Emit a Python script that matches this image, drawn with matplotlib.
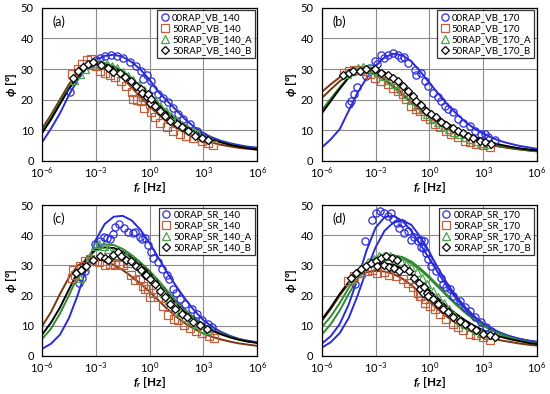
import numpy as np
import matplotlib
matplotlib.use("Agg")
import matplotlib.pyplot as plt

plt.rcParams['font.family'] = ['Lato', 'DejaVu Sans']
plt.rcParams['mathtext.fontset'] = 'custom'
plt.rcParams['mathtext.rm'] = 'Lato'
plt.rcParams['mathtext.it'] = 'Lato:italic:bold'
plt.rcParams['mathtext.bf'] = 'Lato:bold'

# model curves sampled every half decade, log10(f) from -6 to 6
line_logf = [-6, -5.5, -5, -4.5, -4, -3.5, -3, -2.5, -2, -1.5, -1, -0.5, 0,
             0.5, 1, 1.5, 2, 2.5, 3, 3.5, 4, 4.5, 5, 5.5, 6]

# ---- (a) VB_140
a_labels = ['00RAP_VB_140', '50RAP_VB_140', '50RAP_VB_140_A', '50RAP_VB_140_B']
a_line_blue = [6, 10.5, 15.5, 21.5, 26.5, 30.5, 33, 34.3, 34.7, 34, 32.3, 29.8, 26.5,
               22.5, 19.5, 16.5, 13.5, 11, 9, 7.6, 6.5, 5.7, 5.1, 4.6, 4.3]
a_line_brown = [10.5, 15, 20, 25, 29, 31.5, 32.3, 31.5, 29.6, 27, 24, 20.8, 17.8,
                15.1, 12.7, 10.7, 9.1, 7.8, 6.7, 5.9, 5.2, 4.7, 4.2, 3.9, 3.6]
a_line_green = [9.5, 14, 19, 24, 28, 30.8, 32, 32, 31, 29.3, 27, 24.3, 21.5,
                18.7, 16, 13.7, 11.6, 9.8, 8.3, 7.1, 6.1, 5.3, 4.7, 4.2, 3.8]
a_line_black = [9, 13.5, 18.5, 23.5, 27.5, 30.3, 31.5, 31.5, 30.5, 28.8, 26.5, 23.8, 21,
                18.2, 15.6, 13.3, 11.3, 9.6, 8.1, 6.9, 6, 5.2, 4.6, 4.1, 3.7]
a_blue_f = [-4.45, -3.3, -3.0, -2.75, -2.5, -2.15, -1.8, -1.5, -1.1, -0.75, -0.45, -0.38, -0.12,
            0.1, 0.21, 0.49, 0.77, 1.05, 1.33, 1.61, 1.89, 2.26, 2.63, 3.0, 3.28]
a_blue_phi = [22.4, 31.5, 32.8, 33.7, 34.2, 34.5, 34.4, 33.6, 32.2, 30.9, 29.3, 26.6, 27.9,
              26.1, 23.4, 21.7, 20.6, 19.3, 17.4, 15.2, 13.6, 12.0, 9.8, 8.2, 7.1]
a_brown_f = [-4.3, -4.0, -3.75, -3.5, -3.25, -3.0, -2.75, -2.5, -2.2, -1.95, -1.6, -1.3, -1.0,
             -0.95, -0.7, -0.5, -0.36, -0.3, 0.0, 0.1, 0.3, 0.6, 0.95, 1.3, 1.7, 2.05, 2.45,
             2.9, 3.25, 3.55]
a_brown_phi = [28.5, 30.0, 31.5, 32.8, 33.2, 31.0, 29.3, 28.8, 28.0, 27.5, 26.0, 24.5, 22.5,
               20.3, 19.8, 19.6, 20.7, 17.4, 18.5, 15.8, 14.2, 12.5, 11.2, 9.8, 8.7, 8.2, 7.5,
               6.6, 5.8, 5.0]
a_green_f = [-4.2, -3.9, -3.6, -3.3, -3.0, -2.7, -2.4, -2.1, -1.8, -1.5, -1.2, -0.9, -0.6,
             -0.3, 0.0, 0.3, 0.6, 0.9, 1.2, 1.5, 1.8, 2.1, 2.4, 2.7, 3.0, 3.3]
a_green_phi = [26.5, 28.5, 30.0, 31.2, 32.0, 31.8, 31.5, 31.0, 30.2, 29.0, 27.8, 26.5, 24.8,
               23.0, 21.5, 19.8, 18.0, 16.3, 14.8, 13.2, 11.8, 10.6, 9.6, 8.6, 7.8, 7.0]
a_black_f = [-4.27, -3.99, -3.71, -3.43, -3.15, -2.69, -2.32, -2.04, -1.67, -1.39, -1.01, -0.73,
             -0.46, -0.44, -0.16, -0.08, 0.03, 0.1, 0.31, 0.59, 0.86, 1.14, 1.52, 1.8, 2.17,
             2.54, 2.91, 3.28]
a_black_phi = [27.2, 29.3, 30.7, 31.8, 32.2, 31.2, 30.4, 29.0, 28.8, 27.5, 26.1, 24.4,
               23.4, 22.3, 20.7, 21.7, 19.0, 20.1, 18.0, 16.3, 14.7, 13.1, 12.0, 10.9, 9.8,
               8.2, 7.3, 6.8]

# ---- (b) VB_170
b_labels = ['00RAP_VB_170', '50RAP_VB_170', '50RAP_VB_170_A', '50RAP_VB_170_B']
b_line_blue = [4.3, 7, 10.3, 16.3, 22.3, 27, 31, 33.8, 35, 34.5, 32.5, 29.2, 25.5,
               22, 18.5, 15.5, 12.8, 10.6, 8.9, 7.5, 6.4, 5.6, 4.9, 4.4, 3.9]
b_line_brown = [22.5, 25, 27.3, 28.8, 29.4, 29.2, 28.2, 26.5, 24.2, 21.6, 19, 16.5, 14.2,
                12.2, 10.4, 8.9, 7.6, 6.6, 5.8, 5.1, 4.6, 4.1, 3.7, 3.4, 3.1]
b_line_brown2 = [20.5, 23.3, 26, 28, 29, 29.1, 28.4, 26.8, 24.5, 21.9, 19.2, 16.7, 14.4,
                 12.4, 10.6, 9.1, 7.8, 6.7, 5.9, 5.2, 4.6, 4.2, 3.8, 3.4, 3.1]
b_line_green = [16.5, 20.3, 24, 27.3, 29.6, 30.6, 30.3, 29, 26.8, 24, 21, 18.2, 15.7,
                13.5, 11.6, 10, 8.6, 7.4, 6.4, 5.6, 4.9, 4.4, 3.9, 3.5, 3.2]
b_line_black = [15.5, 19.5, 23.5, 27.2, 29.5, 30.3, 29.9, 28.8, 27, 24.5, 21.7, 18.9, 16.4,
                14.2, 12.3, 10.6, 9.1, 7.9, 6.8, 5.9, 5.2, 4.6, 4.1, 3.7, 3.4]
b_blue_f = [-4.47, -4.38, -4.19, -4.05, -3.52, -3.3, -3.05, -2.9, -2.68, -2.5, -2.31, -2.03,
            -1.75, -1.56, -1.4, -1.19, -0.82, -0.73, -0.45, -0.26, -0.07, 0.2, 0.48, 0.67,
            0.86, 1.04, 1.32, 1.6, 1.88, 2.25, 2.53, 2.9, 3.09, 3.28, 3.65]
b_blue_phi = [18.5, 19.6, 21.7, 24.0, 27.7, 30.5, 32.6, 31.5, 34.7, 33.5, 34.7, 35.3,
              34.7, 33.7, 34.0, 32.1, 29.8, 28.1, 28.8, 26.1, 24.4, 22.3, 20.7, 19.6,
              18.0, 16.9, 15.8, 13.6, 12.5, 11.5, 9.8, 8.8, 8.7, 7.7, 6.8]
b_brown_f = [-4.75, -4.47, -4.2, -3.9, -3.6, -3.3, -3.05, -2.68, -2.31, -2.03, -1.75, -1.47,
             -1.29, -1.0, -0.73, -0.54, -0.26, 0.02, 0.3, 0.58, 0.95, 1.23, 1.6, 1.97, 2.25,
             2.63, 3.0, 3.37]
b_brown_phi = [28.8, 29.3, 29.6, 29.8, 29.5, 28.3, 27.2, 26.1, 25.0, 23.9, 22.8, 21.7,
               20.1, 18.0, 16.8, 16.3, 14.7, 13.6, 12.0, 10.9, 9.8, 8.8, 7.7, 6.6, 6.1,
               5.5, 5.0, 4.4]
b_green_f = [-4.6, -4.3, -4.0, -3.7, -3.4, -3.1, -2.8, -2.5, -2.2, -1.9, -1.6, -1.3, -1.0,
             -0.7, -0.4, -0.1, 0.2, 0.5, 0.8, 1.1, 1.4, 1.7, 2.0, 2.3, 2.6, 2.9, 3.2]
b_green_phi = [28.5, 29.5, 30.3, 30.8, 30.5, 29.8, 28.8, 27.8, 26.5, 25.0, 23.5, 21.8, 20.0,
               18.3, 16.8, 15.3, 14.0, 12.8, 11.5, 10.5, 9.5, 8.6, 7.8, 7.1, 6.4, 5.9, 5.4]
b_black_f = [-4.82, -4.5, -4.26, -3.89, -3.52, -3.05, -2.68, -2.31, -2.03, -1.75, -1.47,
             -1.19, -0.91, -0.73, -0.45, -0.17, 0.11, 0.39, 0.67, 0.95, 1.32, 1.6, 1.88,
             2.16, 2.44, 2.81, 3.09, 3.46]
b_black_phi = [28.2, 28.8, 29.3, 29.3, 29.9, 29.9, 28.8, 28.2, 27.2, 26.1, 24.5,
               22.8, 21.2, 19.6, 18.3, 16.3, 15.3, 14.2, 12.8, 11.7, 10.6, 9.8, 9.0,
               8.2, 7.5, 6.6, 6.1, 5.5]

# ---- (c) SR_140
c_labels = ['00RAP_SR_140', '50RAP_SR_140', '50RAP_SR_140_A', '50RAP_SR_140_B']
c_line_blue = [2.3, 4, 7, 12.5, 20.3, 29.5, 38.5, 43.8, 46.2, 46.5, 45, 41.8, 37.5,
               32.5, 27.5, 23, 18.8, 15, 11.9, 9.6, 7.9, 6.6, 5.6, 5, 4.5]
c_line_brown = [9.8, 14.5, 20.5, 26, 30, 31.8, 32, 31.5, 30.2, 28.5, 26.3, 23.9, 21.3,
                18.4, 15.5, 12.9, 10.7, 8.9, 7.4, 6.3, 5.4, 4.7, 4.1, 3.7, 3.3]
c_line_green = [5.5, 9, 14, 20, 26.5, 32, 35.5, 37, 36.8, 35.5, 33.5, 31, 28.2,
                25, 21.5, 18.2, 15.2, 12.6, 10.5, 8.8, 7.4, 6.3, 5.5, 4.8, 4.3]
c_line_black = [7, 11, 16, 22, 28, 32.5, 35.2, 36, 35.8, 34.6, 32.7, 30.3, 27.5,
                24.2, 20.5, 17.2, 14.3, 11.9, 9.9, 8.3, 7.1, 6.1, 5.3, 4.7, 4.3]
c_blue_f = [-3.95, -3.75, -3.6, -3.05, -2.78, -2.55, -2.4, -2.2, -2.05, -1.9, -1.7, -1.45,
            -1.2, -0.95, -0.8, -0.55, -0.4, -0.27, -0.1, 0.1, 0.2, 0.45, 0.68, 0.96, 1.1,
            1.33, 1.45, 1.7, 1.98, 2.35, 2.63, 2.91, 3.28, 3.47]
c_blue_phi = [24.2, 26.0, 28.0, 37.0, 38.0, 39.5, 39.0, 38.8, 40.6, 42.7, 43.9, 42.5,
              41.0, 40.8, 41.2, 39.5, 38.8, 39.0, 36.8, 34.6, 32.5, 31.2, 28.7, 27.0, 25.5,
              22.1, 21.0, 18.8, 17.2, 15.6, 14.0, 11.8, 10.7, 9.6]
c_brown_f = [-4.33, -4.27, -4.18, -3.9, -3.62, -3.35, -3.1, -2.8, -2.5, -2.2, -1.94, -1.7,
             -1.48, -1.2, -1.01, -0.8, -0.53, -0.34, -0.27, -0.07, 0.01, 0.21, 0.49, 0.77,
             1.02, 1.34, 1.6, 1.9, 2.26, 2.6, 2.9, 3.3, 3.58]
c_brown_phi = [25.8, 28.6, 27.0, 29.7, 31.4, 32.0, 31.5, 31.0, 30.3, 30.5, 30.3, 30.6,
               30.3, 30.8, 27.0, 25.3, 25.4, 23.2, 22.1, 22.1, 19.4, 21.0, 19.4, 16.5,
               13.5, 12.2, 11.8, 10.2, 9.3, 8.3, 7.6, 6.6, 6.0]
c_green_f = [-3.9, -3.6, -3.3, -3.05, -2.8, -2.55, -2.3, -2.05, -1.8, -1.55, -1.3, -1.0, -0.7,
             -0.4, -0.1, 0.2, 0.5, 0.8, 1.1, 1.4, 1.7, 2.0, 2.3, 2.6, 2.9, 3.2]
c_green_phi = [26.0, 29.5, 33.0, 36.5, 37.0, 36.5, 35.5, 34.5, 33.5, 33.5, 33.0, 32.0, 30.5,
               29.0, 27.0, 25.5, 23.5, 21.0, 18.5, 16.5, 14.5, 13.0, 11.8, 10.5, 9.3, 8.5]
c_black_f = [-4.08, -3.8, -3.53, -3.15, -2.78, -2.5, -2.32, -2.04, -1.76, -1.57, -1.29, -1.01,
             -0.73, -0.53, -0.46, -0.25, -0.18, 0.03, 0.31, 0.59, 0.86, 1.14, 1.42, 1.8,
             2.07, 2.45, 2.82, 3.19]
c_black_phi = [27.6, 28.6, 29.7, 31.9, 33.0, 32.5, 31.9, 33.5, 34.6, 33.0, 31.9, 31.4,
               29.7, 29.2, 28.6, 27.0, 27.0, 25.4, 23.7, 21.6, 19.4, 17.2, 15.6, 14.0,
               12.9, 11.2, 10.1, 9.0]

# ---- (d) SR_170
d_labels = ['00RAP_SR_170', '50RAP_SR_170', '50RAP_SR_170_A', '50RAP_SR_170_B']
d_line_blue = [4, 6.5, 10.5, 17, 25.5, 35, 42.5, 46, 46.5, 44.8, 41.5, 37, 32.3,
               27.5, 23, 19, 15.6, 12.7, 10.4, 8.7, 7.4, 6.4, 5.6, 5, 4.5]
d_line_blue2 = [2.7, 4.5, 7.5, 12.5, 20, 28.5, 36, 41.5, 44.3, 45, 43.5, 39.5, 34.5,
                29, 24, 19.8, 16.2, 13.2, 10.8, 9, 7.6, 6.5, 5.7, 5.1, 4.7]
d_line_brown = [11.5, 15.5, 20, 24, 26.5, 27.8, 28.2, 28, 27.2, 25.6, 23.5, 20.8, 18,
                15.3, 12.9, 10.8, 9.1, 7.7, 6.6, 5.8, 5.1, 4.6, 4.1, 3.7, 3.4]
d_line_green = [9.5, 13, 17.5, 22.5, 27, 30.5, 32.5, 33.3, 33.2, 32.3, 30.7, 28.5, 25.8,
                22.8, 19.8, 16.9, 14.3, 12, 10, 8.4, 7.1, 6.1, 5.2, 4.6, 4.1]
d_line_green2 = [7, 10.5, 15, 20.5, 25.5, 29.5, 32, 33.2, 33.4, 32.8, 31.3, 29, 26.3,
                 23.3, 20.2, 17.3, 14.6, 12.2, 10.2, 8.5, 7.1, 6, 5.2, 4.6, 4.1]
d_line_black = [12, 16, 20.5, 24.5, 27.5, 29.5, 30.5, 30.7, 30.2, 29, 27, 24.5, 21.8,
                19, 16.3, 13.9, 11.8, 10, 8.5, 7.3, 6.3, 5.5, 4.9, 4.3, 3.9]
d_blue_f = [-4.15, -3.6, -3.2, -3.0, -2.75, -2.5, -2.3, -2.12, -2.03, -1.8, -1.68, -1.5, -1.4,
            -1.2, -1.03, -0.85, -0.65, -0.47, -0.45, -0.35, -0.28, -0.2, -0.07, 0.11, 0.39,
            0.67, 0.76, 0.95, 1.14, 1.32, 1.7, 1.97, 2.25, 2.53, 2.9, 3.18, 3.46]
d_blue_phi = [24.0, 38.0, 45.0, 47.5, 48.2, 47.5, 46.5, 47.3, 45.6, 44.0, 42.3, 44.0, 40.7,
              41.5, 38.5, 39.6, 38.0, 36.3, 38.5, 35.8, 38.0, 34.1, 32.0, 29.8, 28.1,
              26.0, 23.8, 22.7, 22.1, 19.9, 18.3, 16.1, 15.0, 12.8, 11.2, 9.5, 8.3]
d_brown_f = [-4.56, -4.19, -3.82, -3.5, -3.2, -2.89, -2.55, -2.24, -1.86, -1.49, -1.21, -0.93,
             -0.65, -0.54, -0.47, -0.26, -0.19, 0.02, 0.3, 0.58, 0.95, 1.32, 1.6, 1.88, 2.25,
             2.63, 3.0, 3.37]
d_brown_phi = [24.9, 26.5, 27.6, 28.3, 28.5, 27.6, 27.8, 27.0, 26.5, 25.4, 24.3, 22.7,
               21.0, 19.9, 19.9, 17.7, 18.8, 16.7, 15.6, 13.9, 12.3, 10.6, 9.6, 8.5, 7.4,
               6.8, 6.3, 5.2]
d_green_f = [-4.3, -4.0, -3.7, -3.4, -3.1, -2.8, -2.5, -2.2, -1.9, -1.6, -1.3, -1.0, -0.7,
             -0.4, -0.1, 0.2, 0.5, 0.8, 1.1, 1.4, 1.7, 2.0, 2.3, 2.6, 2.9, 3.2]
d_green_phi = [25.5, 27.5, 29.5, 31.0, 32.3, 33.0, 33.3, 33.0, 32.3, 31.5, 30.5, 29.5, 27.8,
               25.8, 23.8, 21.5, 19.5, 17.5, 15.5, 13.6, 12.0, 10.6, 9.4, 8.4, 7.5, 6.8]
d_black_f = [-4.38, -4.1, -3.82, -3.54, -3.26, -3.0, -2.89, -2.7, -2.52, -2.4, -2.24, -2.1,
             -1.96, -1.8, -1.68, -1.4, -1.12, -0.84, -0.56, -0.54, -0.35, -0.28, -0.1, -0.07,
             0.2, 0.48, 0.76, 1.04, 1.32, 1.7, 1.97, 2.35, 2.63, 3.0, 3.37, 3.65]
d_black_phi = [25.9, 27.6, 28.7, 29.8, 30.9, 31.5, 29.8, 32.5, 30.0, 33.0, 29.6, 32.5,
               29.0, 31.8, 28.3, 29.2, 28.1, 25.9, 24.3, 22.1, 21.0, 22.7, 21.0, 19.9,
               18.8, 17.2, 15.6, 14.5, 12.8, 11.7, 10.6, 9.6, 8.5, 7.4, 6.8, 6.3]

BLUE = '#2b2bd8'
BROWN_M = '#c0603e'
BROWN_L = '#7a3410'
GREEN_M = '#4fa04f'
GREEN_L = '#2f8a2f'

xticks = [1e-6, 1e-3, 1, 1e3, 1e6]
xticklabels = [r'$10^{-6}$', r'$10^{-3}$', r'$10^{0}$', r'$10^{3}$', r'$10^{6}$']


def draw_panel(ax, tag, labels, lines, markers):
    lf = 10.0 ** np.array(line_logf)
    for vals, col in lines:
        ax.plot(lf, vals, color=col, lw=1.4, zorder=2)
    styles = [
        dict(marker='o', mec=BLUE, mfc='none', ms=5.2),
        dict(marker='s', mec=BROWN_M, mfc='none', ms=5.2),
        dict(marker='^', mec=GREEN_M, mfc='none', ms=5.2),
        dict(marker='D', mec='black', mfc='white', ms=4.2),
    ]
    for (f, phi), st, lab in zip(markers, styles, labels):
        ax.plot(10.0 ** np.array(f), phi, ls='none', mew=0.9, label=lab, zorder=3, **st)

    ax.set_xscale('log')
    ax.set_xlim(1e-6, 1e6)
    ax.set_ylim(0, 50)
    ax.set_xticks(xticks)
    ax.set_xticklabels(xticklabels)
    ax.xaxis.set_minor_locator(matplotlib.ticker.NullLocator())
    ax.set_yticks([0, 10, 20, 30, 40, 50])
    ax.tick_params(labelsize=8, length=0)
    ax.tick_params(axis='x', pad=3.5)
    ax.tick_params(axis='y', pad=6)
    ax.grid(True, color='#8c8c8c', lw=0.8)
    ax.set_axisbelow(True)
    for s in ax.spines.values():
        s.set_linewidth(0.9)
    ax.set_xlabel(r'$f_r$ [Hz]', fontsize=8.5, fontweight='bold', labelpad=0)
    ax.set_ylabel(r'$\phi$ [°]', fontsize=8.5, fontweight='bold', labelpad=1)
    ax.text(0.05, 0.88, tag, transform=ax.transAxes, fontsize=9)
    leg = ax.legend(loc='upper right', fontsize=7, frameon=True, fancybox=False,
                    edgecolor='black', borderpad=0.3, labelspacing=0.2,
                    handlelength=0.9, handletextpad=0.3, borderaxespad=0.25)
    leg.get_frame().set_linewidth(0.9)


fig = plt.figure(figsize=(5.5, 3.94), dpi=100)
w = 0.391
ax_a = fig.add_axes([0.0764, 0.592, w, 0.388])
ax_b = fig.add_axes([0.585, 0.592, w, 0.388])
ax_c = fig.add_axes([0.0764, 0.097, w, 0.382])
ax_d = fig.add_axes([0.585, 0.097, w, 0.382])

draw_panel(ax_a, '(a)', a_labels,
           [(a_line_blue, BLUE), (a_line_brown, BROWN_L), (a_line_green, GREEN_L),
            (a_line_black, 'black')],
           [(a_blue_f, a_blue_phi), (a_brown_f, a_brown_phi), (a_green_f, a_green_phi),
            (a_black_f, a_black_phi)])
draw_panel(ax_b, '(b)', b_labels,
           [(b_line_blue, BLUE), (b_line_brown, BROWN_L), (b_line_brown2, BROWN_L),
            (b_line_green, GREEN_L), (b_line_black, 'black')],
           [(b_blue_f, b_blue_phi), (b_brown_f, b_brown_phi), (b_green_f, b_green_phi),
            (b_black_f, b_black_phi)])
draw_panel(ax_c, '(c)', c_labels,
           [(c_line_blue, BLUE), (c_line_brown, BROWN_L), (c_line_green, GREEN_L),
            (c_line_black, 'black')],
           [(c_blue_f, c_blue_phi), (c_brown_f, c_brown_phi), (c_green_f, c_green_phi),
            (c_black_f, c_black_phi)])
draw_panel(ax_d, '(d)', d_labels,
           [(d_line_blue, BLUE), (d_line_blue2, BLUE), (d_line_brown, BROWN_L),
            (d_line_green, GREEN_L), (d_line_green2, GREEN_L), (d_line_black, 'black')],
           [(d_blue_f, d_blue_phi), (d_brown_f, d_brown_phi), (d_green_f, d_green_phi),
            (d_black_f, d_black_phi)])

fig.savefig('out.png', dpi=100)
